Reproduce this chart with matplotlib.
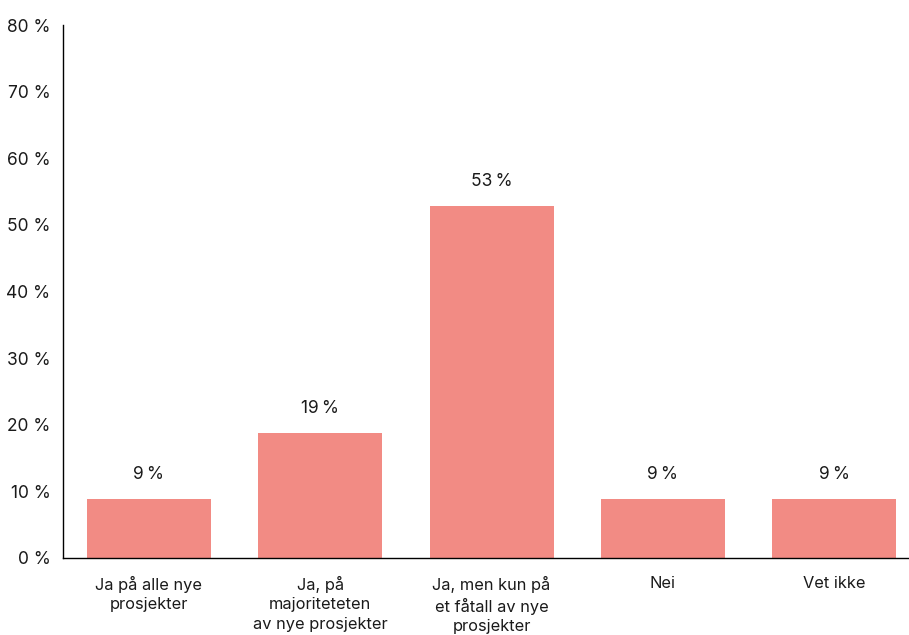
import matplotlib
matplotlib.use("Agg")
import matplotlib.pyplot as plt
from matplotlib.ticker import FuncFormatter

categories = ["Ja på alle nye\nprosjekter", "Ja, på\nmajoriteteten\nav nye prosjekter",
              "Ja, men kun på\net fåtall av nye\nprosjekter", "Nei", "Vet ikke"]
values = [8.8, 18.8, 52.8, 8.8, 8.8]
labels = ["9\u202f%", "19\u202f%", "53\u202f%", "9\u202f%", "9\u202f%"]
yticks = [0, 10, 20, 30, 40, 50, 60, 70, 80]

plt.rcParams['font.family'] = ['Inter', 'DejaVu Sans']
fig = plt.figure(figsize=(9.09, 6.35), dpi=100)
ax = fig.add_axes([63/909, 77/635, (909-63)/909, (558-25)/635])
x = list(range(len(categories)))
bars = ax.bar(x, values, width=0.724, color="#F28B84")
for xi, v, lab in zip(x, values, labels):
    ax.annotate(lab, (xi, v), xytext=(0, 11.5), textcoords="offset points",
                ha="center", va="bottom", fontsize=12.5, color="#1a1a1a")
ax.set_xlim(-0.502, 4.437)
ax.set_ylim(0, 80)
ax.set_yticks(yticks)
ax.yaxis.set_major_formatter(FuncFormatter(lambda v, p: f"{int(v)} %"))
ax.set_xticks(x)
ax.set_xticklabels(categories, fontsize=11.8, color="#1a1a1a", linespacing=1.35)
ax.tick_params(axis="y", length=0, pad=9, labelsize=12.5, labelcolor="#1a1a1a")
ax.tick_params(axis="x", length=0, pad=13)
for s in ["top", "right"]:
    ax.spines[s].set_visible(False)
for s in ["left", "bottom"]:
    ax.spines[s].set_color("black")
    ax.spines[s].set_linewidth(1)
fig.savefig("out.png", dpi=100)
